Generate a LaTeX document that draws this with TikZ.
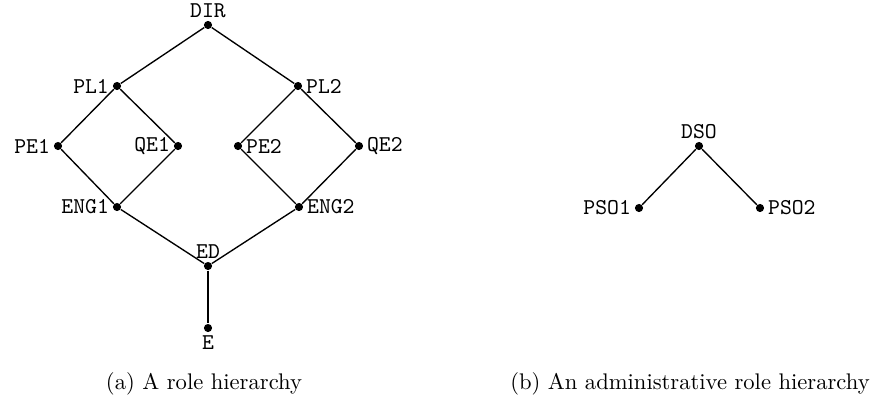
\documentclass[tikz,border=0pt]{standalone}
\begin{document}
\begin{tikzpicture}[x=0.4425pt,y=-0.4425pt,
  dot/.style={circle,fill=black,inner sep=0pt,minimum size=3.6pt},
  every label/.style={font=\ttfamily,inner sep=1.4pt},
  edge/.style={line width=0.6pt},
  thick edge/.style={line width=1pt},
  caption/.style={font=\normalsize,inner sep=0pt}]
\useasboundingbox (0,0) rectangle (876,408);
% (a)
\node[dot,label={[inner sep=1pt]above:DIR}] (dir) at (208,25) {};
\node[dot,label={left:PL1}] (pl1) at (117,86) {};
\node[dot,label={right:PL2}] (pl2) at (298,86) {};
\node[dot,label={left:PE1}] (pe1) at (58,146) {};
\node[dot,label={left:QE1}] (qe1) at (178,146) {};
\node[dot,label={right:PE2}] (pe2) at (238,146) {};
\node[dot,label={right:QE2}] (qe2) at (359,146) {};
\node[dot,label={left:ENG1}] (eng1) at (117,207) {};
\node[dot,label={right:ENG2}] (eng2) at (299,207) {};
\node[dot,label={[inner sep=1pt]above:ED}] (ed) at (208,266) {};
\node[dot,label={[inner sep=1pt]below:E}] (e) at (208,328) {};
\draw[edge] (dir) -- (pl1);
\draw[edge] (dir) -- (pl2);
\draw[edge] (pl1) -- (pe1);
\draw[edge] (pl1) -- (qe1);
\draw[edge] (pl2) -- (pe2);
\draw[edge] (pl2) -- (qe2);
\draw[edge] (pe1) -- (eng1);
\draw[edge] (qe1) -- (eng1);
\draw[edge] (pe2) -- (eng2);
\draw[edge] (qe2) -- (eng2);
\draw[edge] (eng1) -- (ed);
\draw[edge] (eng2) -- (ed);
\draw[thick edge] (ed) -- (e);
\node[caption] (capa) at (204,384) {(a) A role hierarchy};
% (b)
\node[dot,label={[inner sep=1pt]above:DSO}] (dso) at (699,146) {};
\node[dot,label={left:PSO1}] (pso1) at (639,208) {};
\node[dot,label={right:PSO2}] (pso2) at (760,208) {};
\draw[edge] (dso) -- (pso1);
\draw[edge] (dso) -- (pso2);
\node[caption] (capb) at (690,384) {(b) An administrative role hierarchy};
\end{tikzpicture}
\end{document}
